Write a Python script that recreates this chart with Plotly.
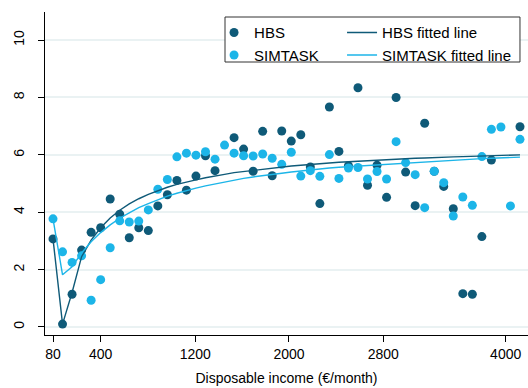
import plotly.graph_objects as go

# Income bins (one per 80 €/month step on the axis), share values per bin
income_bin = list(range(50))

hbs = [3.07, 0.10, 1.14, 2.68, 3.30, 3.46, 4.46, 3.93, 3.11, 3.46,
       3.36, 4.22, 4.61, 5.11, 4.77, 5.26, 5.97, 5.45, None, 6.60,
       6.20, 5.43, 6.82, 5.27, 6.83, 6.48, 6.70, 5.58, 4.30, 7.67,
       6.12, 5.62, 8.34, 4.94, 5.64, 4.52, 8.00, 5.40, 4.23, 7.10,
       5.43, 4.90, 4.12, 1.16, 1.14, 3.15, 5.82, None, None, 6.98]

simtask = [3.77, 2.62, 2.25, 2.48, 0.93, 1.65, 2.76, 3.70, 3.66, 3.69,
           4.08, 4.80, 5.14, 5.93, 6.06, 5.99, 6.11, 5.85, 6.34, 6.06,
           5.97, 5.96, 6.03, 5.88, 5.67, 6.09, 5.26, 5.45, 5.25, 6.01,
           5.18, 5.54, 5.56, 5.16, 5.42, 5.16, 6.46, 5.73, 5.31, 4.16,
           5.43, 5.03, 3.87, 4.53, 4.24, 5.94, 6.89, 6.97, 4.22, 6.54]

hbs_fit = [3.07, 0.10, 1.20, 2.45, 3.03, 3.46, 3.80, 4.07, 4.29, 4.47,
           4.62, 4.75, 4.87, 4.97, 5.06, 5.13, 5.20, 5.27, 5.32, 5.38,
           5.42, 5.47, 5.51, 5.54, 5.58, 5.61, 5.64, 5.67, 5.69, 5.72,
           5.74, 5.76, 5.78, 5.80, 5.82, 5.83, 5.85, 5.86, 5.88, 5.89,
           5.91, 5.92, 5.93, 5.94, 5.95, 5.96, 5.97, 5.98, 5.99, 6.00]

simtask_fit = [3.77, 1.82, 2.10, 2.58, 2.97, 3.29, 3.56, 3.79, 3.98, 4.16,
               4.30, 4.44, 4.56, 4.66, 4.76, 4.84, 4.92, 4.99, 5.06, 5.12,
               5.18, 5.23, 5.28, 5.32, 5.36, 5.40, 5.44, 5.47, 5.51, 5.54,
               5.57, 5.59, 5.62, 5.65, 5.67, 5.69, 5.71, 5.73, 5.75, 5.77,
               5.79, 5.81, 5.82, 5.84, 5.85, 5.87, 5.88, 5.90, 5.91, 5.92]

x_tick_pos = [0, 5, 14.93, 24.76, 34.66, 47.5]
x_tick_text = ["80", "400", "1200", "2000", "2800", "4000"]
y_ticks = [0, 2, 4, 6, 8, 10]

DARK = "#0f5a78"
LIGHT = "#1cb5e8"
FONT = "Liberation Sans, Arial, sans-serif"

fig = go.Figure()
fig.add_trace(go.Scatter(x=income_bin, y=hbs, mode="markers", name="HBS",
                         marker=dict(color=DARK, size=9), legend="legend"))
fig.add_trace(go.Scatter(x=income_bin, y=simtask, mode="markers", name="SIMTASK",
                         marker=dict(color=LIGHT, size=9), legend="legend"))
fig.add_trace(go.Scatter(x=income_bin, y=hbs_fit, mode="lines", name="HBS fitted line",
                         line=dict(color=DARK, width=1.4), legend="legend2"))
fig.add_trace(go.Scatter(x=income_bin, y=simtask_fit, mode="lines", name="SIMTASK fitted line",
                         line=dict(color=LIGHT, width=1.4), legend="legend2"))

legend_common = dict(bgcolor="rgba(0,0,0,0)", borderwidth=0,
                     font=dict(family=FONT, size=15, color="#000"),
                     yanchor="top", xanchor="left", tracegroupgap=0,
                     orientation="v")

fig.update_layout(
    width=528, height=388,
    margin=dict(l=45, r=0, t=12, b=53),
    paper_bgcolor="white", plot_bgcolor="white",
    font=dict(family=FONT, size=14, color="#000"),
    showlegend=True,
    legend=dict(x=0.350, y=0.987, **legend_common),
    legend2=dict(x=0.615, y=0.987, **legend_common),
    xaxis=dict(
        range=[-0.84, 49.84], tickmode="array", tickvals=x_tick_pos, ticktext=x_tick_text,
        showgrid=False, zeroline=False, showline=True, linecolor="#000", linewidth=1,
        ticks="outside", ticklen=6, tickcolor="#000", tickfont=dict(size=14),
        title=dict(text="Disposable income (€/month)", font=dict(size=14), standoff=12),
    ),
    yaxis=dict(
        range=[-0.28, 10.98], tickmode="array", tickvals=y_ticks,
        showgrid=True, gridcolor="#eaf2f3", gridwidth=1.5, zeroline=False,
        showline=True, linecolor="#000", linewidth=1,
        ticks="outside", ticklen=6, tickcolor="#000", tickangle=-90,
        tickfont=dict(size=14), ticklabelstandoff=8,
    ),
    shapes=[dict(type="rect", xref="paper", yref="paper",
                 x0=0.3727, x1=0.9834, y0=0.8452, y1=0.9845,
                 line=dict(color="#333", width=1), fillcolor="white", layer="above")],
)

fig.write_html("out.html")
